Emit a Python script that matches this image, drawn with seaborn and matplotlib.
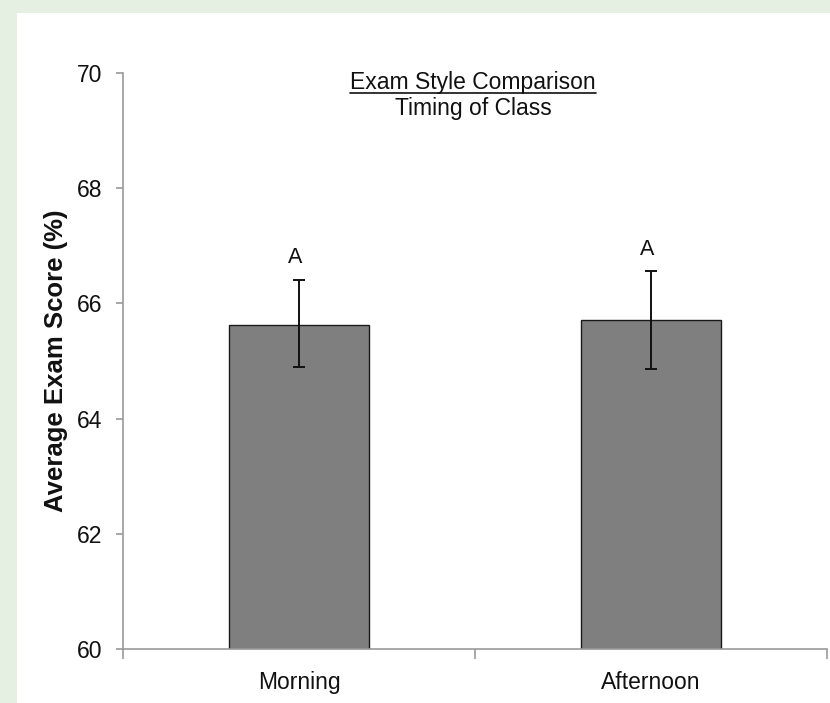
import matplotlib
matplotlib.use("Agg")
import matplotlib.pyplot as plt
import seaborn as sns
import pandas as pd
from matplotlib.patches import Rectangle

categories = ["Morning", "Afternoon"]
means = [65.63, 65.72]
err_low = [0.73, 0.86]
err_high = [0.78, 0.84]
letters = ["A", "A"]
yticks = [60, 62, 64, 66, 68, 70]

sns.set_theme(style="white")
plt.rcParams['font.family'] = ['Liberation Sans', 'DejaVu Sans']

fig = plt.figure(figsize=(8.3, 7.03), dpi=100, facecolor="#e5f0e3")
bg = Rectangle((17/830, 0), 1, 1 - 13/703, transform=fig.transFigure,
               facecolor="white", edgecolor="none", zorder=-10)
fig.add_artist(bg)
ax = fig.add_axes([123/830, 1 - 649/703, 704/830, 576/703])
ax.set_facecolor("none")

df = pd.DataFrame({"Timing": categories, "Score": means})
sns.barplot(data=df, x="Timing", y="Score", ax=ax, color="#7f7f7f", saturation=1,
            width=0.4, edgecolor="#1a1a1a", linewidth=1.0, errorbar=None)
for p in ax.patches:
    p.set_y(60)
    p.set_height(p.get_height() - 60)

ax.errorbar(range(len(categories)), means, yerr=[err_low, err_high], fmt="none",
            ecolor="#111111", elinewidth=1.4, capsize=4, capthick=1.4)

for i, (m, eh, lt) in enumerate(zip(means, err_high, letters)):
    ax.text(i - 0.01, m + eh + 0.2, lt, ha="center", va="bottom", fontsize=15.5, color="#111111")

ax.set_ylim(60, 70)
ax.set_xlim(-0.5, 1.5)
ax.set_yticks(yticks)
ax.set_yticklabels([str(t) for t in yticks], fontsize=16.5, color="#111111")
ax.set_xticks(range(len(categories)))
ax.set_xticklabels(categories, fontsize=16.5, color="#111111")
ax.set_xticks([-0.5, 0.5, 1.5], minor=True)
ax.tick_params(axis="x", which="major", length=0, pad=16)
ax.tick_params(axis="x", which="minor", length=7, width=1.2, color="#999999", direction="out", bottom=True)
ax.tick_params(axis="y", which="major", length=5, width=1.2, color="#999999", direction="out", left=True, pad=10)
ax.set_xlabel("")
ax.set_ylabel("Average Exam Score (%)", fontsize=18.5, fontweight="bold", color="#111111", labelpad=6)

for s in ["top", "right"]:
    ax.spines[s].set_visible(False)
for s in ["left", "bottom"]:
    ax.spines[s].set_color("#999999")
    ax.spines[s].set_linewidth(1.2)

t1 = ax.text(0.497, 0.9727, "Exam Style Comparison", transform=ax.transAxes, ha="center",
             va="baseline", fontsize=16.5, color="#111111")
ax.text(0.497, 0.9271, "Timing of Class", transform=ax.transAxes, ha="center",
        va="baseline", fontsize=16.5, color="#111111")
fig.canvas.draw()
bb = t1.get_window_extent().transformed(fig.transFigure.inverted())
fig.add_artist(plt.Line2D([bb.x0, bb.x1], [bb.y0 + 1/703, bb.y0 + 1/703],
                          transform=fig.transFigure, color="#111111", linewidth=1.2))

fig.savefig("out.png", dpi=100, facecolor=fig.get_facecolor())
